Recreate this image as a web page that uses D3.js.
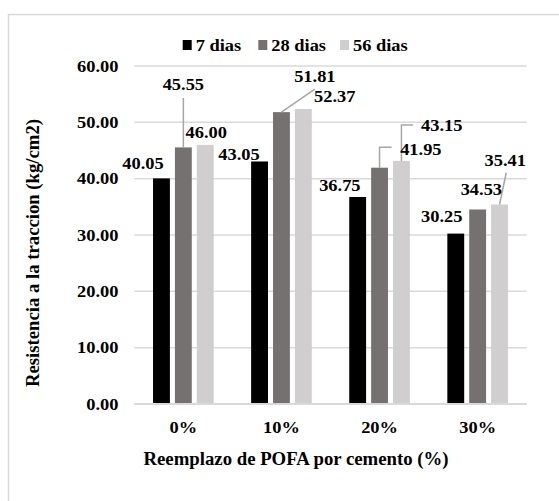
<!DOCTYPE html>
<html>
<head>
<meta charset="utf-8">
<script src="https://cdn.jsdelivr.net/npm/d3@7"></script>
<style>
  body { margin: 0; background: #fff; }
</style>
</head>
<body>
<div id="chart-area"></div>
<script>
// data
var categories = ["0%", "10%", "20%", "30%"];
var seriesNames = ["7 dias", "28 dias", "56 dias"];
var dias7 = [40.05, 43.05, 36.75, 30.25];
var dias28 = [45.55, 51.81, 41.95, 34.53];
var dias56 = [46.00, 52.37, 43.15, 35.41];
var yTicks = [0, 10, 20, 30, 40, 50, 60];

var colors = ["#000000", "#767171", "#d0cece"];
var values = [dias7, dias28, dias56];

// manual label placement (pixel offsets from top centre of each bar), like the Excel original
var labelOffsets = [
  [[-18.4, -15.4], [-20.6, -7.5], [-17.8, -11.3], [-14, -17.6]],
  [[0, -63], [33.4, -36.2], [41.3, -18.7], [3.7, -20.5]],
  [[1, -12], [31.5, -12.3], [40.4, -35.9], [5.7, -44.5]]
];
// leader lines: [series, category, points]
var leaders = [
  [1, 0, [[0, 0], [0, -49.4]]],
  [1, 1, [[0, 0], [33.4, -22.9]]],
  [1, 2, [[0, 0], [0, -20.4], [12, -20.4]]],
  [2, 2, [[0, 0], [0, -35.9], [11.7, -35.9]]],
  [2, 3, [[0, 0], [6.7, -31.8]]]
];

var W = 559, H = 501;
var plot = {left: 134.3, right: 526.7, top: 66, bottom: 404};
var stretch = 1.15;
var font = "Liberation Serif";

var svg = d3.select("#chart-area")
  .append("svg")
    .attr("width", W)
    .attr("height", H)
    .attr("font-family", font)
    .attr("font-weight", "bold");

// chart frame (runs off the right and bottom edges)
svg.append("rect")
  .attr("x", 8.5)
  .attr("y", 14.5)
  .attr("width", 700)
  .attr("height", 700)
  .attr("fill", "none")
  .attr("stroke", "#d9d9d9")
  .attr("stroke-width", 1.5);

var y = d3.scaleLinear()
  .domain([0, 60])
  .range([plot.bottom, plot.top]);

var x0 = d3.scaleBand()
  .domain(categories)
  .range([plot.left, plot.right])
  .paddingInner(0.382)
  .paddingOuter(0.191);

var x1 = d3.scaleBand()
  .domain(d3.range(seriesNames.length))
  .range([0, x0.bandwidth()])
  .paddingInner(0.23);

// the picture is a bit wider than tall, so widen the glyphs with textLength
function widen(t, len) {
  var n = t.node().getComputedTextLength();
  t.attr("textLength", len || n * stretch).attr("lengthAdjust", "spacingAndGlyphs");
  return t;
}

function label(sel, x, yy, size, anchor, txt) {
  var t = sel.append("text")
    .attr("x", x)
    .attr("y", yy)
    .attr("text-anchor", anchor || "middle")
    .attr("dy", "0.35em")
    .attr("font-family", font)
    .attr("font-weight", "bold")
    .attr("font-size", size)
    .text(txt);
  return widen(t);
}

// gridlines
svg.append("g")
  .selectAll("line")
  .data(yTicks.filter(function(d) { return d > 0; }))
  .enter()
  .append("line")
    .attr("x1", plot.left)
    .attr("x2", plot.right)
    .attr("y1", function(d) { return y(d); })
    .attr("y2", function(d) { return y(d); })
    .attr("stroke", "#d9d9d9")
    .attr("stroke-width", 1.5);

// y tick labels
yTicks.forEach(function(t) {
  label(svg, 118.5, y(t), 16, "end", d3.format(".2f")(t));
});

// bars
seriesNames.forEach(function(s, si) {
  svg.append("g")
    .selectAll("rect")
    .data(values[si])
    .enter()
    .append("rect")
      .attr("x", function(d, i) { return x0(categories[i]) + x1(si); })
      .attr("y", function(d) { return y(d); })
      .attr("width", x1.bandwidth())
      .attr("height", function(d) { return y(0) - y(d); })
      .attr("fill", colors[si]);
});

// baseline
svg.append("line")
  .attr("x1", plot.left)
  .attr("x2", plot.right)
  .attr("y1", y(0))
  .attr("y2", y(0))
  .attr("stroke", "#d9d9d9")
  .attr("stroke-width", 2);

function barAnchor(si, ci) {
  return [x0(categories[ci]) + x1(si) + x1.bandwidth() / 2, y(values[si][ci])];
}

// leader lines
leaders.forEach(function(l) {
  var a = barAnchor(l[0], l[1]);
  svg.append("polyline")
    .attr("points", l[2].map(function(p) { return (a[0] + p[0]) + "," + (a[1] + p[1]); }).join(" "))
    .attr("fill", "none")
    .attr("stroke", "#a6a6a6")
    .attr("stroke-width", 1.5);
});

// data labels
seriesNames.forEach(function(s, si) {
  values[si].forEach(function(v, ci) {
    var a = barAnchor(si, ci);
    var o = labelOffsets[si][ci];
    label(svg, a[0] + o[0], a[1] + o[1], 16, "middle", d3.format(".2f")(v));
  });
});

// x tick labels
categories.forEach(function(c) {
  label(svg, x0(c) + x0.bandwidth() / 2, 427, 16, "middle", c);
});

// axis titles
widen(label(svg, 296, 459, 18, "middle", "Reemplazo de POFA por cemento (%)"), 305);

var yTitle = svg.append("text")
  .attr("transform", "translate(33,253) rotate(-90)")
  .attr("text-anchor", "middle")
  .attr("dy", "0.35em")
  .attr("font-family", font)
  .attr("font-weight", "bold")
  .attr("font-size", 18)
  .text("Resistencia a la traccion (kg/cm2)");
widen(yTitle, 268);

// legend
var legendX = [182.7, 258.3, 340];
seriesNames.forEach(function(s, si) {
  svg.append("rect")
    .attr("x", legendX[si])
    .attr("y", 40)
    .attr("width", 9)
    .attr("height", 10)
    .attr("fill", colors[si]);
  label(svg, legendX[si] + 13, 45, 16, "start", s);
});
</script>
</body>
</html>
